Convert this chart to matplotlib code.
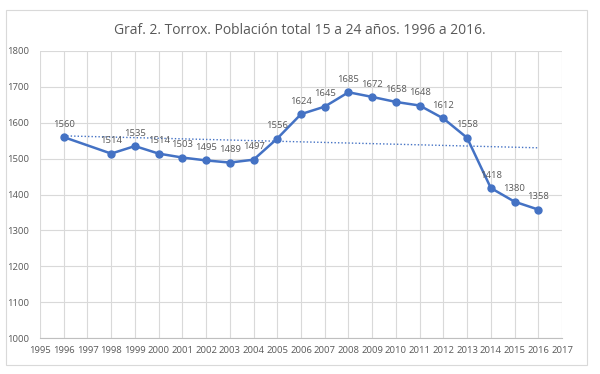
import matplotlib
matplotlib.use("Agg")
import matplotlib.pyplot as plt
import numpy as np
from matplotlib.patches import Rectangle

years = [1996, 1998, 1999, 2000, 2001, 2002, 2003, 2004, 2005, 2006,
         2007, 2008, 2009, 2010, 2011, 2012, 2013, 2014, 2015, 2016]
values = [1560, 1514, 1535, 1514, 1503, 1495, 1489, 1497, 1556, 1624,
          1645, 1685, 1672, 1658, 1648, 1612, 1558, 1418, 1380, 1358]
title = "Graf. 2. Torrox. Población total 15 a 24 años. 1996 a 2016."

plt.rcParams['font.family'] = ['Open Sans', 'DejaVu Sans']
col = "#4472C4"
txt = "#595959"

fig = plt.figure(figsize=(6, 3.74), dpi=100)
fig.patches.append(Rectangle((6/600, 1-365/374), 581/600, 355/374, transform=fig.transFigure,
                             fill=False, edgecolor="#D9D9D9", linewidth=0.8))
ax = fig.add_axes([40/600, 1-338/374, 522/600, 287/374])

x = np.array(years); y = np.array(values)
ax.plot(x, y, color=col, linewidth=1.8, marker='o', markersize=5, zorder=3)
p = np.polyfit(x, y, 1)
xt = np.array([years[0], years[-1]])
ax.plot(xt, np.polyval(p, xt), color=col, linewidth=1.0, linestyle=(0, (1, 1.5)), zorder=2)

for xi, yi in zip(years, values):
    ax.annotate(str(yi), (xi, yi), xytext=(0, 6), textcoords='offset points',
                ha='center', va='bottom', fontsize=6.8, color=txt)

ax.set_xlim(1995, 2017)
ax.set_ylim(1000, 1800)
ax.set_xticks(range(1995, 2018))
ax.set_yticks(range(1000, 1801, 100))
ax.grid(True, color="#D9D9D9", linewidth=0.8)
ax.set_axisbelow(True)
for s in ['top', 'right', 'left']:
    ax.spines[s].set_visible(False)
ax.spines['bottom'].set_color("#BFBFBF")
ax.tick_params(axis='both', length=0, labelsize=6.8, labelcolor=txt)
ax.tick_params(axis='x', pad=6)
ax.tick_params(axis='y', pad=8)
fig.text(0.5, 1-30/374, title, ha='center', va='center', fontsize=10, color=txt)

fig.savefig("out.png", dpi=100)
